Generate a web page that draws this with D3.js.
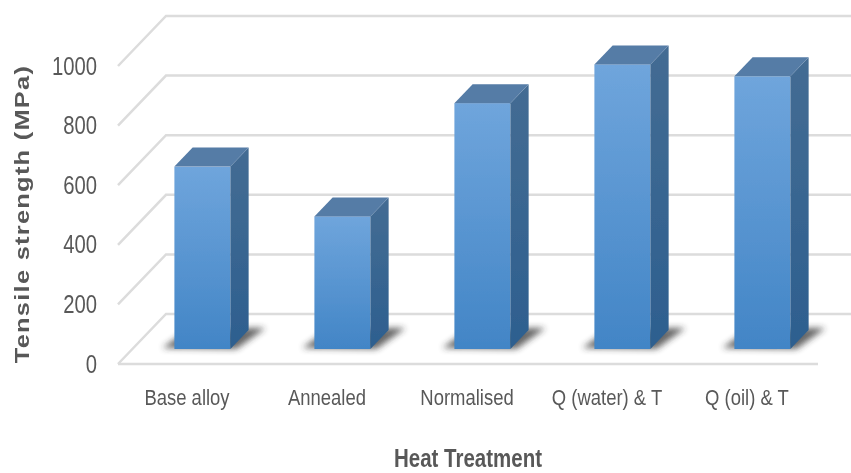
<!DOCTYPE html>
<html>
<head>
<meta charset="utf-8">
<script src="https://cdn.jsdelivr.net/npm/d3@7"></script>
<style>
  html, body { margin: 0; padding: 0; background: #fff; }
  svg { display: block; }
  text { font-family: "Liberation Sans", sans-serif; }
</style>
</head>
<body>
<div id="chart"></div>
<script>
const categories = ["Base alloy", "Annealed", "Normalised", "Q (water) & T", "Q (oil) & T"];
const strength = [612, 445, 825, 955, 915];
const yTicks = [0, 200, 400, 600, 800, 1000];

const WIDTH = 851;
const HEIGHT = 473;

// front edge of the floor, the wall sits DEPTH_X / DEPTH_Y behind it
const DEPTH_X = 48;
const DEPTH_Y = 50;
const BAR_FRONT = 0.3;
const BAR_BACK = 0.68;

const svg = d3
  .select("#chart")
  .append("svg")
  .attr("width", WIDTH)
  .attr("height", HEIGHT);

const x = d3
  .scaleBand()
  .domain(categories)
  .range([118, 818])
  .paddingInner(0.6)
  .paddingOuter(0.3);

const y = d3.scaleLinear().domain([0, 1000]).range([364, 66]);

const px = (v, d) => v + DEPTH_X * d;
const py = (v, d) => y(v) - DEPTH_Y * d;

// GRADIENTS
const defs = svg.append("defs");

function gradient(id, top, bottom) {
  const g = defs
    .append("linearGradient")
    .attr("id", id)
    .attr("x1", 0)
    .attr("y1", 0)
    .attr("x2", 0)
    .attr("y2", 1);
  g.append("stop").attr("offset", "0%").attr("stop-color", top);
  g.append("stop").attr("offset", "100%").attr("stop-color", bottom);
}
gradient("front", "#6fa5dc", "#4285c6");
gradient("side", "#446c93", "#2d5f8f");

defs
  .append("filter")
  .attr("id", "shadow")
  .attr("x", "-30%")
  .attr("y", "-100%")
  .attr("width", "160%")
  .attr("height", "300%")
  .append("feGaussianBlur")
  .attr("stdDeviation", 3);

defs
  .append("filter")
  .attr("id", "soft")
  .attr("x", "-5%")
  .attr("y", "-5%")
  .attr("width", "110%")
  .attr("height", "110%")
  .append("feGaussianBlur")
  .attr("stdDeviation", 0.55);

// WALL + FLOOR GRID
const grid = svg
  .append("g")
  .attr("fill", "none")
  .attr("stroke", "#dcdcdc")
  .attr("stroke-width", 2.5)
  .attr("filter", "url(#soft)");

grid
  .selectAll(".wall")
  .data(yTicks)
  .enter()
  .append("path")
  .attr("class", "wall")
  .attr("d", (d) => `M118,${y(d)}L${px(118, 1)},${py(d, 1)}H851`);

grid.append("path").attr("d", `M118,${y(0)}H818`);

// SHADOWS
svg
  .append("g")
  .selectAll("path")
  .data(categories)
  .enter()
  .append("path")
  .attr("d", (d) => {
    const l = px(x(d), BAR_FRONT);
    const r = l + x.bandwidth();
    const b = py(0, BAR_FRONT);
    return `M${l - 12},${b - 1}L${l + 5},${b - 13}L${r + 19},${b - 21}H${r + 35}L${r + 6},${b}Z`;
  })
  .attr("fill", "#2a2a2a")
  .attr("opacity", 0.72)
  .attr("filter", "url(#shadow)");

// BARS
const bars = svg
  .append("g")
  .selectAll("g")
  .data(categories.map((c, i) => ({ c, v: strength[i] })))
  .enter()
  .append("g")
  .attr("filter", "url(#soft)");

bars
  .append("rect")
  .attr("x", (d) => px(x(d.c), BAR_FRONT))
  .attr("y", (d) => py(d.v, BAR_FRONT))
  .attr("width", x.bandwidth())
  .attr("height", (d) => py(0, BAR_FRONT) - py(d.v, BAR_FRONT))
  .attr("fill", "url(#front)");

bars
  .append("path")
  .attr("d", (d) => {
    const r = px(x(d.c), BAR_FRONT) + x.bandwidth();
    const dx = DEPTH_X * (BAR_BACK - BAR_FRONT);
    const dy = DEPTH_Y * (BAR_BACK - BAR_FRONT);
    const t = py(d.v, BAR_FRONT);
    const b = py(0, BAR_FRONT);
    return `M${r},${t}L${r + dx},${t - dy}V${b - dy}L${r},${b}Z`;
  })
  .attr("fill", "url(#side)");

bars
  .append("path")
  .attr("d", (d) => {
    const l = px(x(d.c), BAR_FRONT);
    const r = l + x.bandwidth();
    const dx = DEPTH_X * (BAR_BACK - BAR_FRONT);
    const dy = DEPTH_Y * (BAR_BACK - BAR_FRONT);
    const t = py(d.v, BAR_FRONT);
    return `M${l},${t}L${l + dx},${t - dy}H${r + dx}L${r},${t}Z`;
  })
  .attr("fill", "#557ba6");

// AXES - the source type is tall and condensed, so squeeze it horizontally
const labels = svg.append("g").attr("filter", "url(#soft)");

labels
  .append("g")
  .selectAll("text")
  .data(yTicks)
  .enter()
  .append("text")
  .attr("transform", (d) => `translate(97, ${y(d) + 8.5}) scale(0.78, 1)`)
  .attr("text-anchor", "end")
  .attr("font-size", 26)
  .attr("fill", "#595959")
  .text((d) => d);

labels
  .append("g")
  .selectAll("text")
  .data(categories)
  .enter()
  .append("text")
  .attr("transform", (d) => `translate(${x(d) + x.bandwidth() / 2 - 1}, 405) scale(0.84, 1)`)
  .attr("text-anchor", "middle")
  .attr("font-size", 22)
  .attr("fill", "#595959")
  .text((d) => d);

// LABELS
labels
  .append("text")
  .attr("transform", "translate(468, 467) scale(0.82, 1)")
  .attr("text-anchor", "middle")
  .attr("font-size", 25)
  .attr("font-weight", "bold")
  .attr("fill", "#595959")
  .text("Heat Treatment");

labels
  .append("text")
  .attr("transform", "translate(29, 214) rotate(-90) scale(1.27, 1)")
  .attr("text-anchor", "middle")
  .attr("font-size", 20)
  .attr("font-weight", "bold")
  .attr("letter-spacing", 1)
  .attr("fill", "#595959")
  .text("Tensile strength (MPa)");
</script>
</body>
</html>
